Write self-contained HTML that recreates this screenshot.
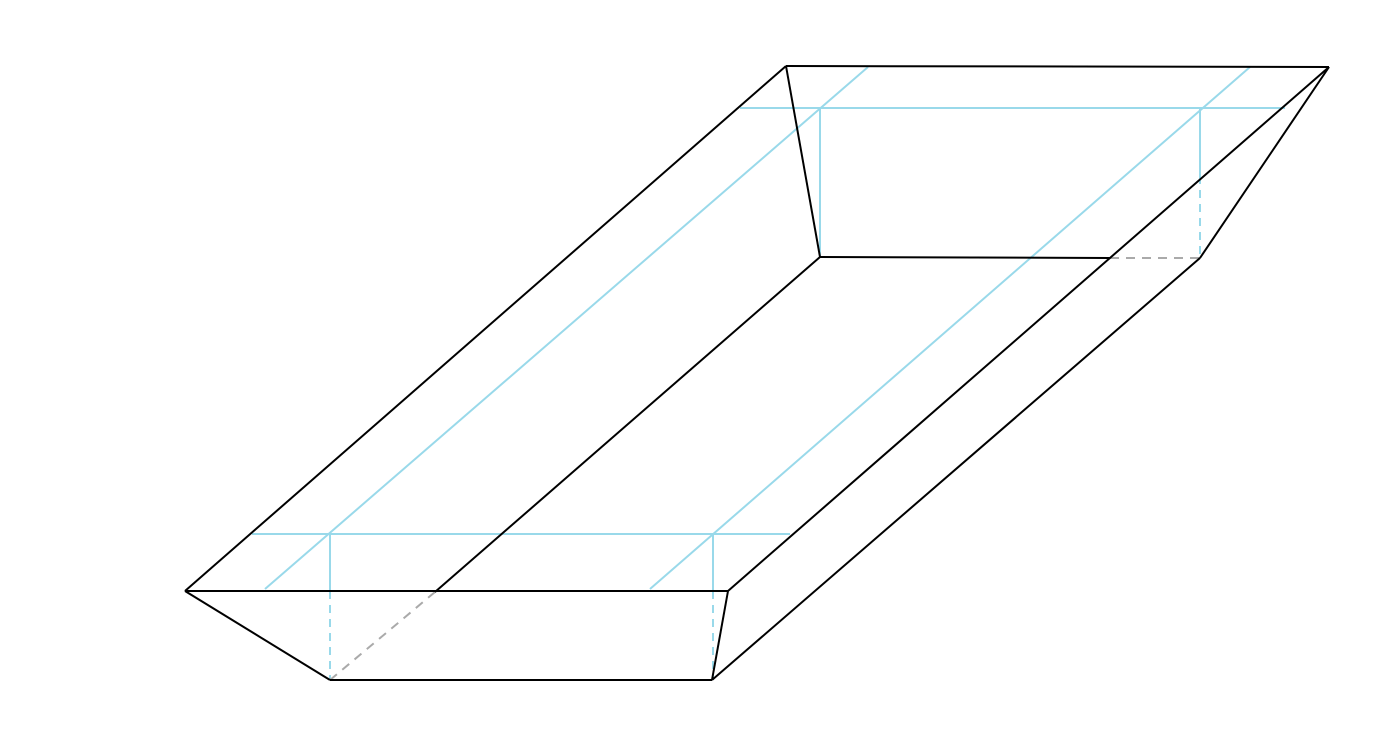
<!DOCTYPE html>
<html><head><meta charset="utf-8"><style>html,body{margin:0;padding:0;background:#fff;}svg{display:block}</style></head>
<body>
<svg width="1380" height="750" viewBox="0 0 1380 750" xmlns="http://www.w3.org/2000/svg">
<g stroke="#99d9ea" stroke-width="2" fill="none">
<line x1="252" y1="534" x2="790" y2="534"/>
<line x1="740" y1="108" x2="1285" y2="108"/>
<line x1="265" y1="589" x2="868" y2="67"/>
<line x1="650" y1="589" x2="1250" y2="67"/>
<line x1="330" y1="534" x2="330" y2="591"/>
<line x1="330" y1="591" x2="330" y2="680" stroke-dasharray="8,6"/>
<line x1="713" y1="534" x2="713" y2="591"/>
<line x1="713" y1="591" x2="713" y2="680" stroke-dasharray="8,6"/>
<line x1="820" y1="108" x2="820" y2="257"/>
<line x1="1200" y1="108" x2="1200" y2="176"/>
<line x1="1200" y1="176" x2="1200" y2="258" stroke-dasharray="8,6"/>
</g>
<g stroke="#aaa" stroke-width="2" stroke-dasharray="9,7" fill="none">
<line x1="435" y1="592" x2="330" y2="680"/>
<line x1="1110" y1="258" x2="1200" y2="258"/>
</g>
<g stroke="#000" stroke-width="2" fill="none" stroke-linejoin="round">
<line x1="185" y1="591" x2="786" y2="66"/>
<line x1="786" y1="66" x2="1329" y2="67"/>
<line x1="185" y1="591" x2="728" y2="591"/>
<line x1="728" y1="591" x2="1329" y2="67"/>
<line x1="786" y1="66" x2="820" y2="257"/>
<line x1="820" y1="257" x2="1110" y2="258"/>
<line x1="820" y1="257" x2="435" y2="592"/>
<line x1="185" y1="591" x2="330" y2="680"/>
<line x1="330" y1="680" x2="712" y2="680"/>
<line x1="712" y1="680" x2="728" y2="591"/>
<line x1="712" y1="680" x2="1200" y2="258"/>
<line x1="1200" y1="258" x2="1329" y2="67"/>
</g>
</svg>
</body></html>
